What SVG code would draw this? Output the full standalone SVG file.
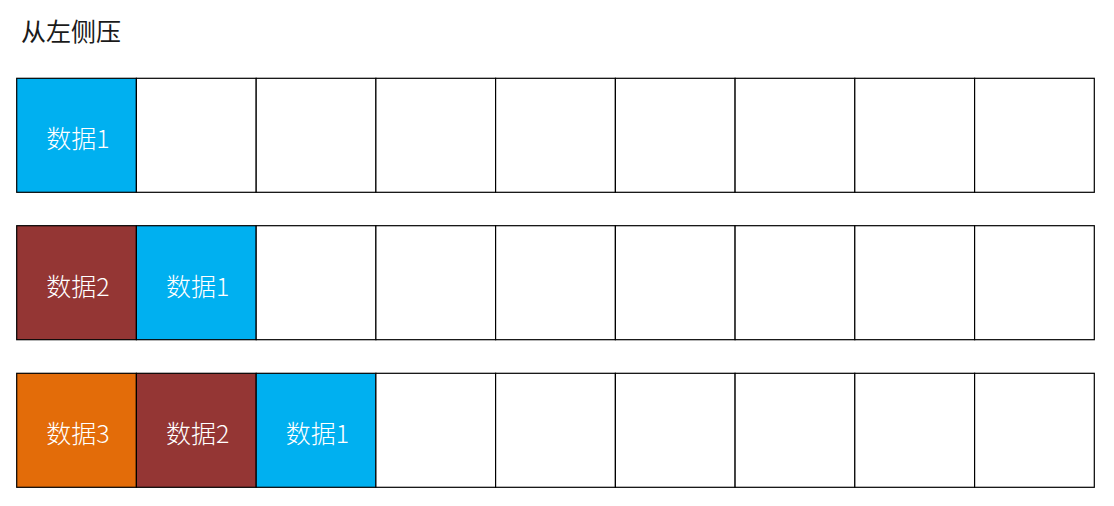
<svg xmlns="http://www.w3.org/2000/svg" width="1114" height="506" viewBox="0 0 1114 506">
<style>
.c{fill:#ffffff;stroke:#000000;stroke-width:1.2}
.b{fill:#00B0F0}
.r{fill:#943634}
.o{fill:#E36C09}
.t{font-family:"Noto Sans CJK SC","Noto Sans",sans-serif;font-size:25px;font-weight:300;fill:#ffffff;text-anchor:middle;dominant-baseline:central}
.h{font-family:"Noto Sans CJK SC","Noto Sans",sans-serif;font-size:25px;fill:#1a1a1a}
</style>
<rect width="1114" height="506" fill="#ffffff"/>
<text class="h" x="21" y="41">从左侧压</text>
<g id="row1">
<rect class="c b" x="16.7" y="78.3" width="119.7" height="114"/>
<rect class="c" x="136.4" y="78.3" width="119.8" height="114"/>
<rect class="c" x="256.2" y="78.3" width="119.7" height="114"/>
<rect class="c" x="375.9" y="78.3" width="119.7" height="114"/>
<rect class="c" x="495.6" y="78.3" width="119.8" height="114"/>
<rect class="c" x="615.4" y="78.3" width="119.7" height="114"/>
<rect class="c" x="735.1" y="78.3" width="119.7" height="114"/>
<rect class="c" x="854.8" y="78.3" width="119.8" height="114"/>
<rect class="c" x="974.6" y="78.3" width="119.7" height="114"/>
<text class="t" x="78" y="137">数据1</text>
</g>
<g id="row2">
<rect class="c r" x="16.7" y="225.7" width="119.7" height="114"/>
<rect class="c b" x="136.4" y="225.7" width="119.8" height="114"/>
<rect class="c" x="256.2" y="225.7" width="119.7" height="114"/>
<rect class="c" x="375.9" y="225.7" width="119.7" height="114"/>
<rect class="c" x="495.6" y="225.7" width="119.8" height="114"/>
<rect class="c" x="615.4" y="225.7" width="119.7" height="114"/>
<rect class="c" x="735.1" y="225.7" width="119.7" height="114"/>
<rect class="c" x="854.8" y="225.7" width="119.8" height="114"/>
<rect class="c" x="974.6" y="225.7" width="119.7" height="114"/>
<text class="t" x="78" y="284.5">数据2</text>
<text class="t" x="197.8" y="284.5">数据1</text>
</g>
<g id="row3">
<rect class="c o" x="16.7" y="373.3" width="119.7" height="114"/>
<rect class="c r" x="136.4" y="373.3" width="119.8" height="114"/>
<rect class="c b" x="256.2" y="373.3" width="119.7" height="114"/>
<rect class="c" x="375.9" y="373.3" width="119.7" height="114"/>
<rect class="c" x="495.6" y="373.3" width="119.8" height="114"/>
<rect class="c" x="615.4" y="373.3" width="119.7" height="114"/>
<rect class="c" x="735.1" y="373.3" width="119.7" height="114"/>
<rect class="c" x="854.8" y="373.3" width="119.8" height="114"/>
<rect class="c" x="974.6" y="373.3" width="119.7" height="114"/>
<text class="t" x="78" y="432">数据3</text>
<text class="t" x="197.8" y="432">数据2</text>
<text class="t" x="317.5" y="432">数据1</text>
</g>
<g id="connectors"/>
</svg>
